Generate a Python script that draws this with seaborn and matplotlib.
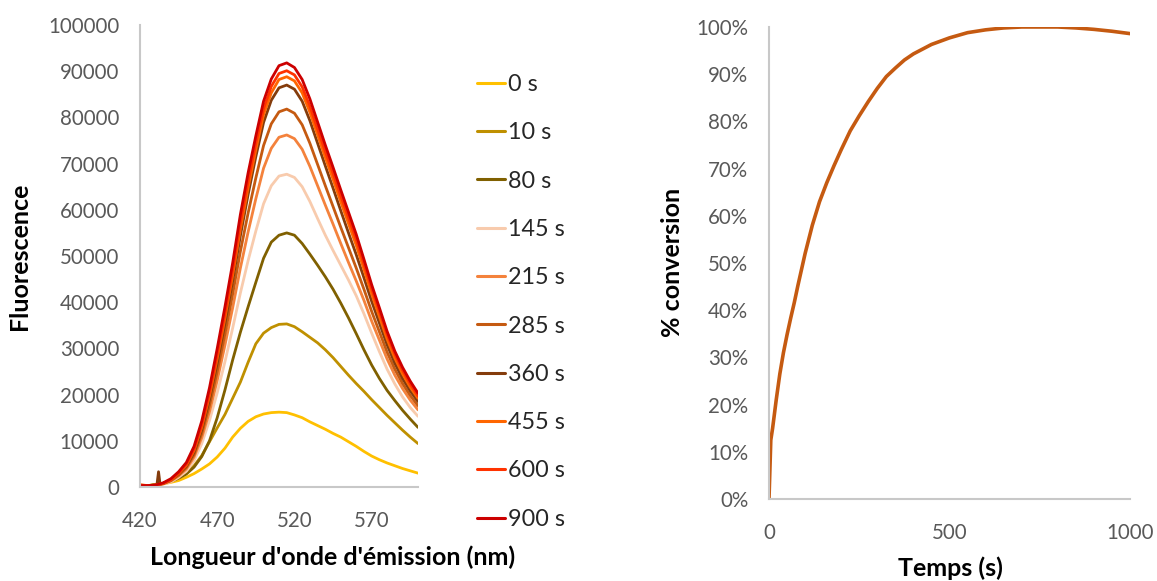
import numpy as np
import pandas as pd
import matplotlib
matplotlib.use("Agg")
import matplotlib.pyplot as plt
import seaborn as sns

# ---------------- data ----------------
wavelengths = list(range(420, 601, 5))
time_labels = ["0 s", "10 s", "80 s", "145 s", "215 s", "285 s", "360 s", "455 s", "600 s", "900 s"]

f_0 = [200, 300, 500, 700, 1000, 1400, 2100, 2900, 3900, 5000, 6500, 8400, 10800, 12700, 14200, 15200, 15800,
       16100, 16200, 16100, 15600, 15000, 14100, 13300, 12500, 11600, 10800, 9800, 8800, 7700, 6700, 5900, 5200,
       4600, 4000, 3500, 3000]
f_10 = [200, 300, 500, 800, 1300, 2000, 3000, 4600, 6800, 9800, 12800, 15700, 19200, 22700, 27000, 31000, 33300,
        34500, 35200, 35300, 34700, 33600, 32400, 31200, 29700, 28000, 26100, 24200, 22400, 20700, 18900, 17200,
        15500, 13900, 12300, 10800, 9400]
f_80 = [200, 300, 500, 800, 1200, 1900, 2800, 4300, 6600, 10000, 15000, 21000, 27500, 33500, 39000, 44300, 49500,
        53000, 54500, 55000, 54500, 52700, 50400, 48000, 45500, 42800, 39800, 36600, 33200, 29700, 26400, 23500,
        20900, 18700, 16600, 14700, 12900]
f_145 = [300, 300, 400, 600, 1100, 2100, 3400, 5700, 9400, 14400, 20400, 27100, 34400, 42000, 49000, 55400, 61300,
         65200, 67300, 67700, 67000, 65000, 61800, 58100, 54500, 51200, 48000, 44800, 41400, 37500, 33300, 29300,
         25500, 22300, 19500, 17200, 15300]
f_215 = [300, 300, 400, 700, 1300, 2400, 3900, 6500, 10700, 16300, 23100, 30700, 38800, 47400, 55200, 62400, 69000,
         73300, 75700, 76200, 75400, 73100, 69400, 65200, 61000, 56900, 52700, 48600, 44600, 40400, 35900, 31800,
         27700, 24200, 21300, 18800, 16700]
f_285 = [300, 300, 400, 700, 1400, 2600, 4200, 7000, 11600, 17700, 25000, 33100, 41800, 51000, 59300, 66900, 73900,
         78600, 81200, 81800, 80900, 78400, 74400, 69800, 65200, 60700, 56200, 51800, 47400, 42800, 38000, 33600,
         29200, 25500, 22400, 19800, 17600]
f_360 = [300, 300, 400, 800, 1500, 2800, 4500, 7500, 12400, 19000, 26800, 35400, 44600, 54400, 63300, 71500, 78900,
         83700, 86400, 87000, 86100, 83500, 79300, 74400, 69500, 64700, 59800, 55000, 50300, 45300, 40200, 35500,
         30800, 26800, 23500, 20800, 18500]
f_455 = [500, 300, 400, 800, 1500, 2900, 4700, 7900, 13000, 19800, 27900, 36600, 45900, 55900, 64800, 73000, 80600,
         85300, 88200, 88800, 87900, 85300, 81100, 76200, 71300, 66600, 61700, 57000, 52300, 47100, 41800, 36900,
         32000, 27900, 24500, 21600, 19200]
f_600 = [400, 300, 400, 800, 1600, 3000, 4900, 8200, 13400, 20400, 28700, 37600, 47000, 57200, 66200, 74400, 81900,
         86700, 89500, 90100, 89200, 86600, 82400, 77500, 72600, 67900, 63000, 58300, 53600, 48300, 42900, 38000,
         33000, 28800, 25300, 22300, 19700]
f_900 = [300, 300, 400, 900, 1800, 3300, 5300, 8800, 14300, 21500, 30000, 39000, 48500, 59000, 68000, 76000, 83500,
         88300, 91200, 91800, 90800, 88200, 84000, 79000, 74000, 69200, 64300, 59500, 54700, 49300, 43800, 38800,
         33700, 29400, 25900, 22900, 20300]

# narrow spike visible on the 360 s spectrum
spike_360_wl = [431, 432, 433]
spike_360_val = [600, 3300, 600]

colors = ["#FFC000", "#BF9000", "#806000", "#F8CBAD", "#F4823C", "#C55A11", "#843C0C", "#FF6600", "#FF3300", "#CC0000"]

conv_time = [0, 5, 10, 20, 30, 40, 50, 60, 70, 80, 90, 100, 110, 120, 140, 160, 180, 200, 225, 250, 275, 300, 325,
             350, 375, 400, 450, 500, 550, 600, 650, 700, 750, 800, 850, 900, 950, 1000]
conv_pct = [0, 12.5, 15, 21, 26.5, 31, 34.8, 38.3, 41.6, 45.2, 48.6, 52, 55, 58, 63, 67, 70.6, 74, 78, 81.2, 84.2,
            87, 89.5, 91.3, 93, 94.3, 96.3, 97.7, 98.8, 99.4, 99.8, 100, 100, 100, 99.8, 99.5, 99.1, 98.6]

# ---------------- tables ----------------
series = [f_0, f_10, f_80, f_145, f_215, f_285, f_360, f_455, f_600, f_900]
rows = []
for lab, vals in zip(time_labels, series):
    for w, v in zip(wavelengths, vals):
        rows.append((w, v, lab))
for w, v in zip(spike_360_wl, spike_360_val):
    rows.append((w, v, "360 s"))
spec = pd.DataFrame(rows, columns=["wl", "F", "t"]).sort_values(["t", "wl"])
conv = pd.DataFrame({"time": conv_time, "pct": np.array(conv_pct) / 100.0})

# ---------------- style ----------------
sns.set_theme(style="white")
plt.rcParams["font.family"] = ["Lato", "DejaVu Sans"]
tick_color = "#595959"
spine_color = "#C8C8C8"

fig = plt.figure(figsize=(11.57, 5.81), dpi=100)
W, H = 1157, 581
ax1 = fig.add_axes([140 / W, 1 - 487 / H, (418 - 140) / W, (487 - 25) / H])
ax2 = fig.add_axes([769 / W, 1 - 499 / H, (1130 - 769) / W, (499 - 27) / H])

sns.lineplot(data=spec, x="wl", y="F", hue="t", hue_order=time_labels, palette=colors,
             linewidth=2.0, ax=ax1, sort=True, estimator=None, legend=True)
sns.lineplot(data=conv, x="time", y="pct", color="#C55A11", linewidth=2.6, ax=ax2, estimator=None)

ax1.set_xlim(420, 600)
ax1.set_ylim(0, 100000)
ax1.set_xticks([420, 470, 520, 570])
ax1.set_yticks(range(0, 100001, 10000))
ax1.set_yticklabels([str(v) for v in range(0, 100001, 10000)])

ax2.set_xlim(0, 1000)
ax2.set_ylim(0, 1.0)
ax2.set_xticks([0, 500, 1000])
ax2.set_yticks(np.arange(0, 1.01, 0.1))
ax2.set_yticklabels([f"{int(round(v * 100))}%" for v in np.arange(0, 1.01, 0.1)])

for ax in (ax1, ax2):
    for s in ("top", "right"):
        ax.spines[s].set_visible(False)
    for s in ("left", "bottom"):
        ax.spines[s].set_color(spine_color)
        ax.spines[s].set_linewidth(1.5)
    ax.tick_params(axis="both", length=0, labelsize=14.8, labelcolor=tick_color)
    ax.tick_params(axis="y", pad=15)
    ax.tick_params(axis="x", pad=17)
    ax.grid(False)

lab_fs = 18
ax1.set_xlabel("Longueur d'onde d'émission (nm)", fontsize=lab_fs, fontweight="bold", color="black")
ax1.set_ylabel("Fluorescence", fontsize=lab_fs, fontweight="bold", color="black")
ax2.set_xlabel("Temps (s)", fontsize=lab_fs, fontweight="bold", color="black")
ax2.set_ylabel("% conversion", fontsize=lab_fs, fontweight="bold", color="black")

ax1.xaxis.set_label_coords((333 - 140) / 278, (487 - 557) / 462)
ax1.xaxis.label.set_verticalalignment("center")
ax1.yaxis.set_label_coords((20 - 140) / 278, 0.5)
ax1.yaxis.label.set_verticalalignment("center")
ax2.xaxis.set_label_coords((950 - 769) / 361, (499 - 568) / 472)
ax2.xaxis.label.set_verticalalignment("center")
ax2.yaxis.set_label_coords((672 - 769) / 361, (499 - 262) / 472)
ax2.yaxis.label.set_verticalalignment("center")

handles, labels = ax1.get_legend_handles_labels()
ax1.get_legend().remove()
leg = fig.legend(handles, labels, loc="upper left", bbox_to_anchor=(477 / W, 1 - 74 / H),
                 frameon=False, fontsize=16.8, handlelength=1.2, handletextpad=0.13,
                 labelspacing=1.17, borderpad=0, borderaxespad=0)
for line in leg.get_lines():
    line.set_linewidth(2.2)

fig.savefig("out.png", dpi=100)
